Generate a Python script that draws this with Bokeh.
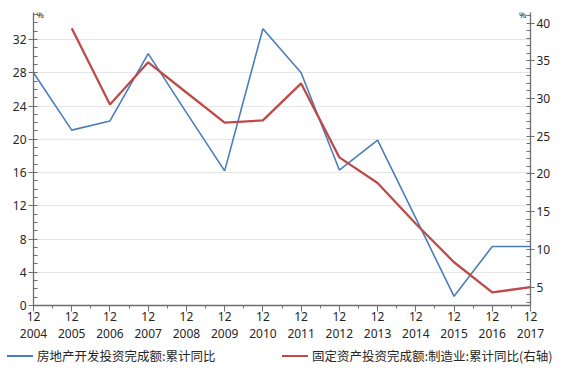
from bokeh.plotting import figure
from bokeh.layouts import column
from bokeh.models import (Range1d, LinearAxis, FixedTicker, Label, Div)
from bokeh.embed import file_html
from bokeh.resources import INLINE

# ---- data ----
years = [2004, 2005, 2006, 2007, 2008, 2009, 2010, 2011, 2012, 2013, 2014, 2015, 2016, 2017]
month_labels = ["12"] * len(years)
real_estate = [28.0, 21.1, 22.2, 30.3, 23.2, 16.2, 33.3, 28.0, 16.3, 19.9, 10.5, 1.1, 7.1, 7.1]
mfg_years = [2005, 2006, 2007, 2008, 2009, 2010, 2011, 2012, 2013, 2014, 2015, 2016, 2017]
manufacturing = [39.3, 29.2, 34.8, 30.8, 26.8, 27.1, 32.0, 22.2, 18.8, 13.4, 8.3, 4.3, 5.0]
left_ticks = [0, 4, 8, 12, 16, 20, 24, 28, 32]
right_ticks = [5, 10, 15, 20, 25, 30, 35, 40]
name_re = "房地产开发投资完成额:累计同比"
name_mfg = "固定资产投资完成额:制造业:累计同比(右轴)"

BLUE = "#4a7ebb"
RED = "#be4b48"
AXIS = "#6e6e6e"
TXT = "#262626"
NUMFONT = "Noto Sans"
CJK = "Noto Sans CJK SC"

p = figure(width=553, height=343, output_backend="svg", toolbar_location=None,
           x_axis_location=None, y_axis_location=None,
           x_range=Range1d(2004, 2017), y_range=Range1d(0, 35.25),
           min_border_left=33, min_border_right=20, min_border_top=12, min_border_bottom=38)
p.outline_line_color = None
p.extra_y_ranges = {"right": Range1d(2.57, 41.4)}

def style_axis(ax):
    ax.axis_line_color = AXIS
    ax.axis_line_width = 1.3
    ax.major_tick_line_color = AXIS
    ax.minor_tick_line_color = AXIS
    ax.major_label_text_font = NUMFONT
    ax.major_label_text_font_size = "12px"
    ax.major_label_text_color = TXT

# left axis
la = LinearAxis(ticker=FixedTicker(ticks=left_ticks, minor_ticks=list(range(0, 36))))
style_axis(la)
la.major_tick_out = 5
la.major_tick_in = 0
la.minor_tick_out = 0
la.minor_tick_in = 4
la.major_label_standoff = 2
p.add_layout(la, "left")

# right axis
ra = LinearAxis(y_range_name="right",
                ticker=FixedTicker(ticks=right_ticks, minor_ticks=list(range(3, 42))))
style_axis(ra)
ra.major_tick_out = 4
ra.major_tick_in = 0
ra.minor_tick_out = 0
ra.minor_tick_in = 4
ra.major_label_standoff = 2
p.add_layout(ra, "right")

# bottom axis (month "12")
half = [y + 0.5 for y in years[:-1]]
ba = LinearAxis(ticker=FixedTicker(ticks=years, minor_ticks=half))
style_axis(ba)
ba.major_tick_out = 6
ba.major_tick_in = 0
ba.minor_tick_out = 3
ba.minor_tick_in = 0
ba.major_label_standoff = 0
ba.major_label_overrides = {y: m for y, m in zip(years, month_labels)}
p.add_layout(ba, "below")

# bottom axis (years)
ya = LinearAxis(ticker=FixedTicker(ticks=years, minor_ticks=[]))
style_axis(ya)
ya.axis_line_color = None
ya.major_tick_line_color = None
ya.minor_tick_line_color = None
ya.major_tick_out = 0
ya.major_tick_in = 0
ya.major_label_standoff = 5
ya.major_label_overrides = {y: str(y) for y in years}
p.add_layout(ya, "below")

# grid: horizontal at left majors
p.xgrid.visible = False
p.ygrid.ticker = FixedTicker(ticks=left_ticks)
p.ygrid.grid_line_color = "#e6e6e6"
p.ygrid.grid_line_width = 1

p.line(years, real_estate, line_color=BLUE, line_width=1.6)
p.line(mfg_years, manufacturing, line_color=RED, line_width=2.3, y_range_name="right")

# "%" unit labels
p.add_layout(Label(x=2004, y=35.25, text="%", x_offset=3, y_offset=-2,
                   text_font=NUMFONT, text_font_size="9px", text_color=TXT,
                   text_align="left", text_baseline="middle"))
p.add_layout(Label(x=2017, y=35.25, text="%", x_offset=-4, y_offset=-2,
                   text_font=NUMFONT, text_font_size="9px", text_color=TXT,
                   text_align="right", text_baseline="middle"))

# legend strip below the chart
def entry(color, text, left):
    return (f'<span style="position:absolute;left:{left}px;top:12px;width:26px;height:2px;'
            f'background:{color};"></span>'
            f'<span style="position:absolute;left:{left + 30}px;top:3px;line-height:20px;'
            f'white-space:nowrap;">{text}</span>')

legend_html = (f'<div style="position:relative;width:553px;height:21px;'
               f'font-family:\'{CJK}\';font-size:12.5px;color:{TXT};">'
               + entry(BLUE, name_re, 7) + entry(RED, name_mfg, 282) + '</div>')
legend_div = Div(text=legend_html, width=553, height=21, margin=0)

layout = column(p, legend_div, spacing=0)
open("out.html", "w").write(file_html(layout, INLINE))
